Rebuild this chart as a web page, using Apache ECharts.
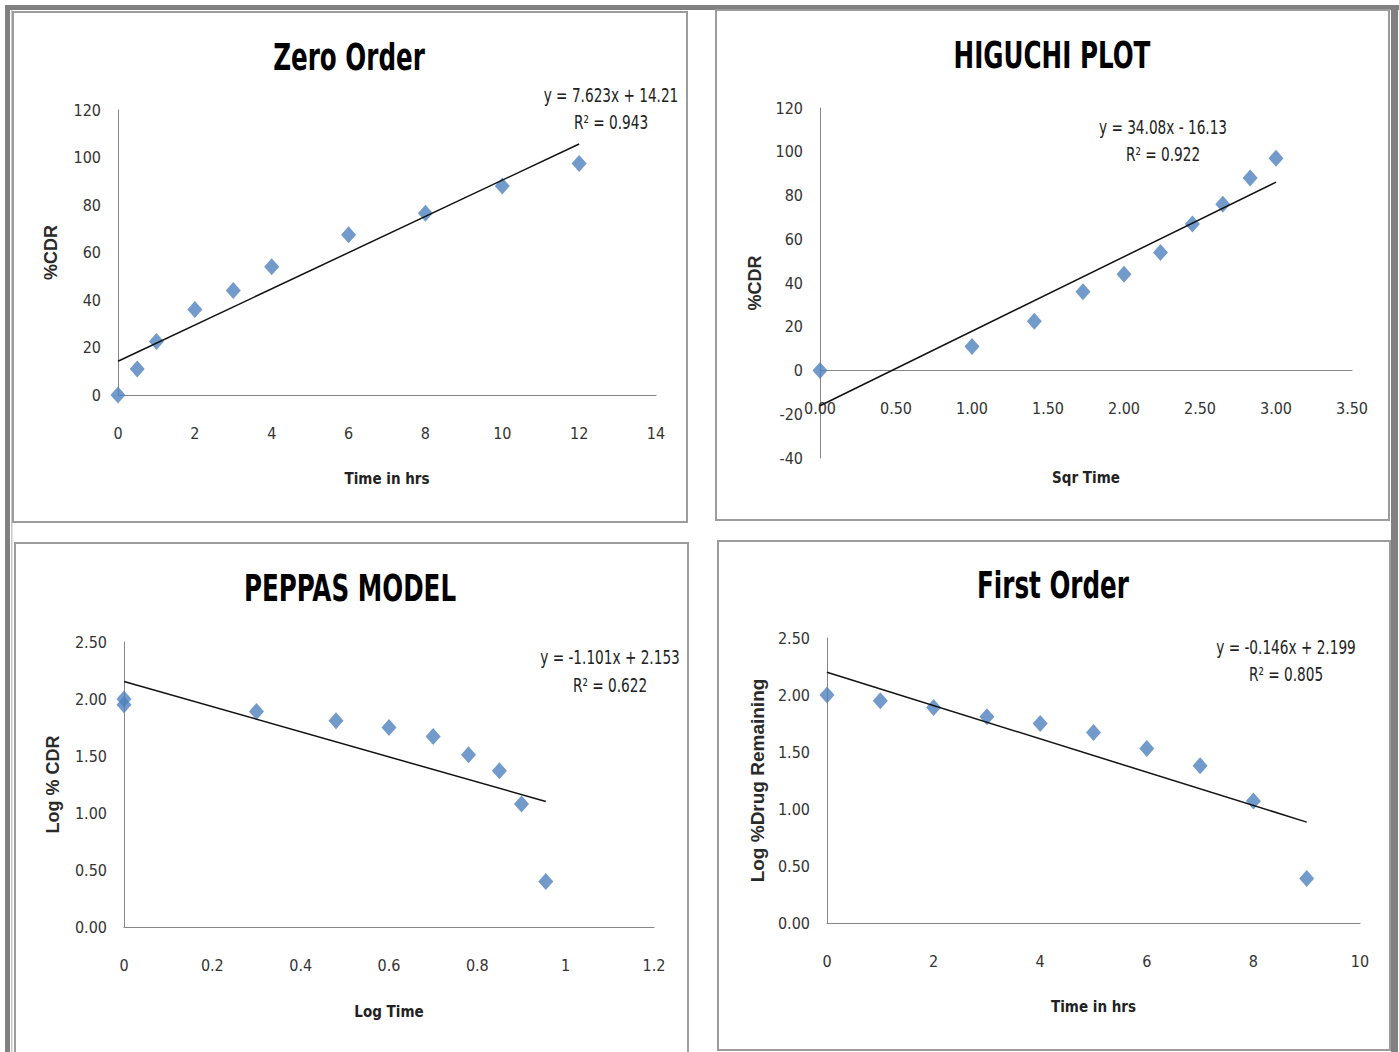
<!DOCTYPE html>
<html><head><meta charset="utf-8">
<script src="https://cdn.jsdelivr.net/npm/echarts@6/dist/echarts.min.js"></script>
<style>html,body{margin:0;padding:0;background:#fff}#c{width:1399px;height:1052px}</style>
</head><body><div id="c"></div>
<script>
// ---- Data ----
const zeroTime = [0, 0.5, 1, 2, 3, 4, 6, 8, 10, 12];
const zeroCDR = [0, 11, 22.5, 36, 44, 54, 67.5, 76.5, 88, 97.5];
const zeroTrendX = [0, 12];
const zeroTrendY = [14.21, 105.7];

const higuchiSqrtTime = [0, 1, 1.41, 1.73, 2, 2.24, 2.45, 2.65, 2.83, 3];
const higuchiCDR = [0, 11, 22.5, 36, 44, 54, 67, 76, 88, 97];
const higuchiTrendX = [0, 3];
const higuchiTrendY = [-16.13, 86.1];

const peppasLogTime = [0, 0, 0.30, 0.48, 0.60, 0.70, 0.78, 0.85, 0.90, 0.955];
const peppasLogCDR = [2.00, 1.95, 1.89, 1.81, 1.75, 1.67, 1.51, 1.37, 1.08, 0.40];
const peppasTrendX = [0, 0.955];
const peppasTrendY = [2.153, 1.101];

const firstTime = [0, 1, 2, 3, 4, 5, 6, 7, 8, 9];
const firstLogRemaining = [2.00, 1.95, 1.89, 1.81, 1.75, 1.67, 1.53, 1.38, 1.07, 0.39];
const firstTrendX = [0, 9];
const firstTrendY = [2.199, 0.885];

const titles = ['Zero Order', 'HIGUCHI PLOT', 'PEPPAS MODEL', 'First Order'];
const xNames = ['Time in hrs', 'Sqr Time', 'Log Time', 'Time in hrs'];
const yNames = ['%CDR', '%CDR', 'Log % CDR', 'Log %Drug Remaining'];
const equations = [
  ['y = 7.623x + 14.21', 'R\u00B2 = 0.943'],
  ['y = 34.08x - 16.13', 'R\u00B2 = 0.922'],
  ['y = -1.101x + 2.153', 'R\u00B2 = 0.622'],
  ['y = -0.146x + 2.199', 'R\u00B2 = 0.805']
];

// ---- Styling / layout ----
const NARROW = '"Liberation Sans Narrow","Arial Narrow","DejaVu Sans Condensed",sans-serif';
const SANS = '"Liberation Sans",Arial,sans-serif';
const MARK = '#4F81BD';
const AXC = '#868686';

const grids = [
  {left: 118, top: 110, width: 538, height: 285},
  {left: 820, top: 108, width: 532, height: 350},
  {left: 124, top: 642, width: 530, height: 285},
  {left: 827, top: 638, width: 533, height: 285}
];
const xRanges = [[0, 14, 2, v => String(v)], [0, 3.5, 0.5, v => v.toFixed(2)], [0, 1.2, 0.2, v => String(+v.toFixed(1))], [0, 10, 2, v => String(v)]];
const yRanges = [[0, 120, 20, v => String(v)], [-40, 120, 20, v => String(v)], [0, 2.5, 0.5, v => v.toFixed(2)], [0, 2.5, 0.5, v => v.toFixed(2)]];
const xGaps = [76, 100, 77, 76];
const xOffsets = [0, -87.5, 0, 0];   // Higuchi x axis crosses at y = 0
const yGaps = [58, 56, 62, 60];
const yNameSizes = [18, 18, 18, 19];

const tickLabel = {color: '#333', fontFamily: NARROW, fontSize: 16};

const xAxis = xRanges.map((r, i) => ({
  type: 'value', gridIndex: i, min: r[0], max: r[1], interval: r[2],
  offset: xOffsets[i],
  axisLine: {show: true, onZero: false, lineStyle: {color: AXC, width: 1}},
  axisTick: {show: false}, splitLine: {show: false},
  axisLabel: Object.assign({margin: 30, formatter: r[3]}, tickLabel),
  name: xNames[i], nameLocation: 'middle', nameGap: xGaps[i],
  nameTextStyle: {fontFamily: NARROW, fontWeight: 'bold', fontSize: 15, color: '#222'}
}));
const yAxis = yRanges.map((r, i) => ({
  type: 'value', gridIndex: i, min: r[0], max: r[1], interval: r[2],
  axisLine: {show: true, onZero: false, lineStyle: {color: AXC, width: 1}},
  axisTick: {show: false}, splitLine: {show: false},
  axisLabel: Object.assign({margin: 17, formatter: r[3]}, tickLabel),
  name: yNames[i], nameLocation: 'middle', nameGap: yGaps[i], nameRotate: 90,
  nameTextStyle: {fontFamily: SANS, fontWeight: 'bold', fontSize: yNameSizes[i], color: '#2a2a2a'}
}));

const pts = [[zeroTime, zeroCDR], [higuchiSqrtTime, higuchiCDR], [peppasLogTime, peppasLogCDR], [firstTime, firstLogRemaining]];
const trends = [[zeroTrendX, zeroTrendY], [higuchiTrendX, higuchiTrendY], [peppasTrendX, peppasTrendY], [firstTrendX, firstTrendY]];
const zip = (a, b) => a.map((v, k) => [v, b[k]]);

const series = [];
pts.forEach((p, i) => {
  series.push({type: 'scatter', xAxisIndex: i, yAxisIndex: i, data: zip(p[0], p[1]),
    symbol: 'diamond', symbolSize: [15, 17], itemStyle: {color: MARK}, z: 2});
  series.push({type: 'line', xAxisIndex: i, yAxisIndex: i, data: zip(trends[i][0], trends[i][1]),
    showSymbol: false, symbol: 'none', lineStyle: {color: '#111', width: 1.5}, z: 3, silent: true});
});

// decorative frame + panel borders
const panels = [[13, 12, 674, 510], [716, 10, 673, 510], [15, 543, 673, 530], [718, 541, 672, 509]];
const graphic = [];
graphic.push({type: 'rect', shape: {x: 5, y: 5, width: 1394, height: 5}, style: {fill: '#808080'}, silent: true});
graphic.push({type: 'rect', shape: {x: 5, y: 5, width: 5, height: 1047}, style: {fill: '#808080'}, silent: true});
graphic.push({type: 'rect', shape: {x: 11, y: 10, width: 1.5, height: 1042}, style: {fill: '#c8c8c8'}, silent: true});
graphic.push({type: 'rect', shape: {x: 1391, y: 5, width: 7, height: 1047}, style: {fill: '#808080'}, silent: true});
panels.forEach(p => graphic.push({type: 'rect', shape: {x: p[0], y: p[1], width: p[2], height: p[3]},
  style: {fill: 'none', stroke: '#9c9c9c', lineWidth: 2}, silent: true}));

const titlePos = [[349, 57], [1052, 55], [350, 588], [1053, 585]];
titles.forEach((t, i) => graphic.push({type: 'text', x: titlePos[i][0], y: titlePos[i][1], scaleX: 0.74, silent: true,
  style: {text: t, align: 'center', verticalAlign: 'middle', fontFamily: NARROW, fontWeight: 'bold', fontSize: 37, fill: '#000'}}));

const eqPos = [[611, 95, 122], [1163, 127, 154], [610, 657, 685], [1286, 647, 674]];
equations.forEach((e, i) => {
  graphic.push({type: 'text', x: eqPos[i][0], y: eqPos[i][1], scaleX: 0.8, silent: true,
    style: {text: e[0], align: 'center', verticalAlign: 'middle', fontFamily: NARROW, fontSize: 19, fill: '#222'}});
  graphic.push({type: 'text', x: eqPos[i][0], y: eqPos[i][2], scaleX: 0.8, silent: true,
    style: {text: e[1], align: 'center', verticalAlign: 'middle', fontFamily: NARROW, fontSize: 19, fill: '#222'}});
});

const chart = echarts.init(document.getElementById('c'), null, {renderer: 'svg'});
chart.setOption({
  animation: false,
  backgroundColor: '#fff',
  grid: grids,
  xAxis: xAxis,
  yAxis: yAxis,
  series: series,
  graphic: graphic
});
</script></body></html>
